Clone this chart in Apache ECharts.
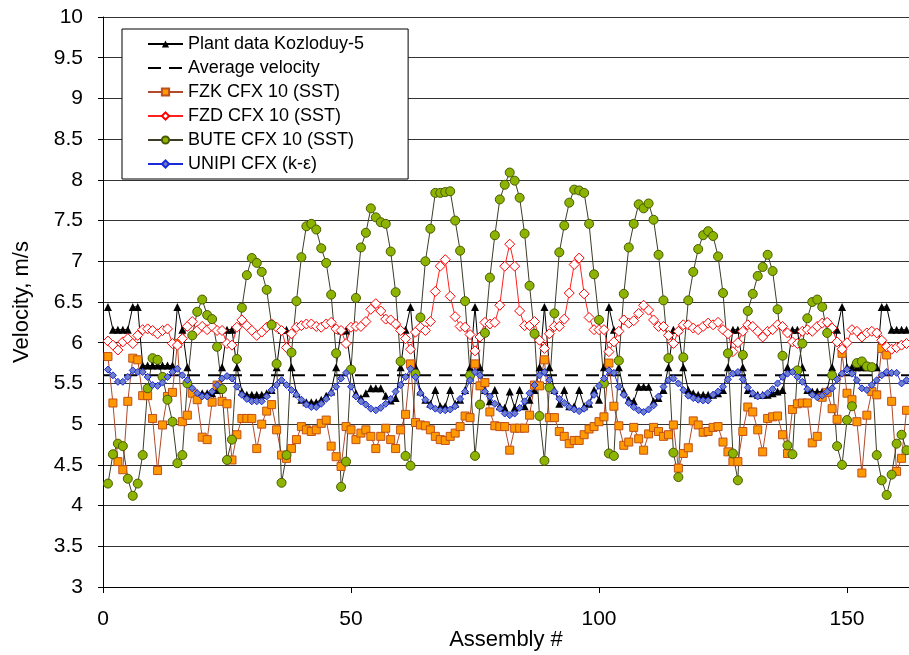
<!DOCTYPE html>
<html>
<head>
<meta charset="utf-8">
<script src="https://cdn.jsdelivr.net/npm/echarts@6/dist/echarts.min.js"></script>
<style>
  html, body { margin: 0; padding: 0; background: #fff; }
  #main { width: 909px; height: 655px; }
</style>
</head>
<body>
<div id="main"></div>
<script>
// velocities per assembly, assembly #1 .. #162 (m/s)
var plantData = [
  6.44, 6.16, 6.16, 6.16, 6.16, 6.44, 6.44, 5.72, 5.72, 5.72,
  5.72, 5.72, 5.72, 5.72, 6.44, 6.16, 5.70, 5.40, 5.38, 5.38,
  5.38, 5.38, 5.42, 5.70, 6.16, 6.16, 5.70, 5.40, 5.36, 5.36,
  5.36, 5.36, 5.38, 5.42, 5.70, 6.16, 6.16, 5.70, 5.38, 5.30,
  5.27, 5.27, 5.27, 5.30, 5.35, 5.40, 5.70, 6.15, 6.15, 5.70,
  5.38, 5.32, 5.38, 5.44, 5.44, 5.44, 5.35, 5.29, 5.32, 5.70,
  6.16, 6.44, 5.70, 5.40, 5.30, 5.25, 5.42, 5.22, 5.22, 5.42,
  5.25, 5.30, 5.42, 5.70, 6.44, 5.70, 5.42, 5.28, 5.42, 5.22,
  5.20, 5.40, 5.20, 5.42, 5.22, 5.30, 5.42, 5.70, 6.44, 5.70,
  5.42, 5.25, 5.42, 5.22, 5.22, 5.42, 5.22, 5.25, 5.42, 5.30,
  5.70, 6.44, 6.16, 5.70, 5.40, 5.30, 5.28, 5.46, 5.46, 5.46,
  5.28, 5.32, 5.42, 5.70, 6.16, 6.16, 5.70, 5.42, 5.38, 5.36,
  5.36, 5.36, 5.36, 5.38, 5.42, 5.70, 6.16, 6.16, 5.70, 5.42,
  5.38, 5.36, 5.36, 5.36, 5.38, 5.40, 5.42, 5.70, 6.16, 6.16,
  5.70, 5.42, 5.40, 5.40, 5.40, 5.42, 5.70, 6.16, 6.44, 5.70,
  5.70, 5.70, 5.70, 5.70, 5.70, 5.70, 6.44, 6.44, 6.16, 6.16,
  6.16, 6.16
];
var averageVelocity = 5.6;
var fzkData = [
  5.83, 5.26, 4.54, 4.44, 5.28, 5.81, 5.79, 5.35, 5.35, 5.07,
  4.43, 4.99, 5.34, 5.39, 5.99, 5.03, 5.11, 5.38, 5.30, 4.84,
  4.81, 5.27, 5.48, 5.28, 5.25, 4.56, 4.87, 5.07, 5.07, 5.07,
  4.70, 5.00, 5.16, 5.24, 4.93, 4.62, 4.58, 4.70, 4.81, 4.97,
  4.93, 4.91, 4.93, 5.01, 5.05, 4.73, 4.60, 4.48, 4.97, 4.93,
  4.81, 4.89, 4.93, 4.85, 4.70, 4.85, 4.95, 4.81, 4.70, 4.93,
  5.12, 5.74, 5.02, 4.99, 4.98, 4.93, 4.85, 4.81, 4.80, 4.85,
  4.89, 4.97, 5.10, 5.08, 5.74, 5.47, 5.51, 5.15, 4.98, 4.97,
  4.97, 4.68, 4.95, 4.95, 4.95, 5.11, 5.48, 5.47, 5.79, 5.08,
  5.08, 4.91, 4.85, 4.76, 4.80, 4.80, 4.87, 4.94, 4.97, 5.03,
  5.09, 5.75, 5.22, 4.98, 4.74, 4.78, 4.96, 4.82, 4.68, 4.88,
  4.96, 4.91, 4.85, 4.87, 4.99, 4.46, 4.64, 4.71, 5.04, 4.99,
  4.90, 4.91, 4.96, 4.97, 4.78, 4.66, 4.54, 4.54, 4.91, 5.21,
  5.15, 4.93, 4.66, 5.07, 5.09, 5.10, 4.87, 4.64, 5.18, 5.25,
  5.26, 5.26, 4.77, 4.85, 5.33, 5.39, 5.19, 5.06, 5.87, 5.38,
  5.30, 5.03, 4.40, 5.11, 5.40, 5.36, 5.93, 5.85, 5.28, 4.42,
  4.58, 5.17
];
var fzdData = [
  6.02, 5.97, 5.91, 6.01, 6.05, 5.99, 6.09, 6.16, 6.17, 6.15,
  6.11, 6.15, 6.17, 5.99, 5.97, 6.05, 6.20, 6.26, 6.15, 6.20,
  6.16, 6.20, 6.15, 6.15, 5.99, 5.97, 6.19, 6.28, 6.21, 6.15,
  6.09, 6.13, 6.19, 6.23, 6.19, 6.15, 5.94, 6.11, 6.19, 6.21,
  6.23, 6.23, 6.20, 6.19, 6.23, 6.25, 6.17, 6.15, 5.99, 6.19,
  6.20, 6.20, 6.26, 6.41, 6.48, 6.39, 6.29, 6.28, 6.23, 6.15,
  6.05, 5.92, 6.13, 6.19, 6.15, 6.26, 6.63, 6.94, 7.02, 6.57,
  6.32, 6.20, 6.19, 6.10, 5.90, 6.07, 6.25, 6.23, 6.25, 6.46,
  6.94, 7.21, 6.94, 6.39, 6.21, 6.21, 6.26, 6.03, 5.93, 6.11,
  6.20, 6.20, 6.29, 6.61, 6.96, 7.04, 6.60, 6.31, 6.16, 6.16,
  6.16, 5.89, 6.01, 6.14, 6.28, 6.24, 6.27, 6.36, 6.46, 6.40,
  6.28, 6.20, 6.20, 6.09, 5.99, 6.14, 6.22, 6.22, 6.18, 6.16,
  6.20, 6.24, 6.22, 6.25, 6.16, 6.11, 5.89, 6.00, 6.14, 6.22,
  6.20, 6.14, 6.07, 6.14, 6.16, 6.22, 6.20, 6.12, 6.01, 5.99,
  6.14, 6.16, 6.14, 6.20, 6.24, 6.25, 6.18, 6.01, 5.92, 6.00,
  6.16, 6.14, 6.07, 6.12, 6.14, 6.12, 6.03, 5.95, 5.92, 5.94,
  5.97, 5.99
];
var buteData = [
  4.27, 4.63, 4.76, 4.73, 4.33, 4.12, 4.27, 4.62, 5.44, 5.81,
  5.79, 5.58, 5.30, 5.03, 4.52, 4.62, 5.50, 6.09, 6.38, 6.53,
  6.34, 6.29, 5.95, 5.43, 4.56, 4.81, 5.80, 6.43, 6.83, 7.04,
  6.98, 6.87, 6.65, 6.22, 5.74, 4.28, 4.62, 5.88, 6.51, 7.05,
  7.43, 7.46, 7.39, 7.16, 6.98, 6.59, 5.87, 4.23, 4.54, 5.67,
  6.55, 7.17, 7.35, 7.65, 7.54, 7.48, 7.46, 7.12, 6.62, 5.77,
  4.61, 4.49, 5.62, 6.31, 7.00, 7.40, 7.84, 7.84, 7.85, 7.86,
  7.50, 7.13, 6.51, 5.60, 4.61, 5.24, 6.12, 6.80, 7.32, 7.76,
  7.94, 8.09, 7.99, 7.78, 7.34, 6.70, 6.11, 5.10, 4.55, 5.45,
  6.36, 7.11, 7.44, 7.72, 7.88, 7.87, 7.84, 7.46, 6.84, 6.28,
  5.50, 4.64, 4.61, 5.78, 6.60, 7.17, 7.46, 7.70, 7.65, 7.71,
  7.51, 7.08, 6.52, 5.81, 4.65, 4.35, 5.82, 6.52, 6.87, 7.15,
  7.32, 7.37, 7.31, 7.06, 6.61, 5.87, 4.64, 4.31, 5.85, 6.39,
  6.60, 6.82, 6.93, 7.08, 6.88, 6.41, 5.84, 4.74, 4.63, 5.66,
  5.99, 6.30, 6.50, 6.53, 6.44, 6.12, 5.60, 4.73, 4.50, 5.05,
  5.22, 5.75, 5.77, 5.71, 5.70, 4.62, 4.31, 4.13, 4.38, 4.76,
  4.87, 4.68
];
var unipiData = [
  5.67, 5.60, 5.52, 5.52, 5.58, 5.66, 5.64, 5.64, 5.58, 5.48,
  5.47, 5.51, 5.58, 5.64, 5.68, 5.60, 5.54, 5.44, 5.38, 5.34,
  5.34, 5.40, 5.48, 5.56, 5.59, 5.56, 5.46, 5.36, 5.31, 5.28,
  5.28, 5.28, 5.34, 5.42, 5.48, 5.54, 5.48, 5.42, 5.36, 5.30,
  5.24, 5.21, 5.21, 5.25, 5.31, 5.38, 5.46, 5.56, 5.63, 5.46,
  5.34, 5.28, 5.24, 5.19, 5.17, 5.20, 5.25, 5.31, 5.40, 5.48,
  5.58, 5.68, 5.58, 5.38, 5.30, 5.22, 5.19, 5.17, 5.17, 5.18,
  5.22, 5.31, 5.40, 5.54, 5.64, 5.60, 5.40, 5.34, 5.25, 5.19,
  5.13, 5.11, 5.13, 5.20, 5.28, 5.38, 5.48, 5.60, 5.64, 5.54,
  5.40, 5.31, 5.26, 5.21, 5.18, 5.16, 5.19, 5.26, 5.36, 5.47,
  5.56, 5.66, 5.63, 5.46, 5.36, 5.26, 5.21, 5.17, 5.15, 5.18,
  5.23, 5.34, 5.46, 5.54, 5.56, 5.50, 5.42, 5.35, 5.32, 5.30,
  5.29, 5.29, 5.36, 5.40, 5.46, 5.55, 5.62, 5.64, 5.55, 5.45,
  5.38, 5.34, 5.35, 5.38, 5.43, 5.50, 5.58, 5.62, 5.64, 5.58,
  5.52, 5.43, 5.36, 5.33, 5.35, 5.40, 5.44, 5.55, 5.62, 5.67,
  5.62, 5.54, 5.44, 5.42, 5.48, 5.54, 5.60, 5.64, 5.63, 5.63,
  5.50, 5.54
];
var yTicks = { min: 3, max: 10, step: 0.5 };
var xTicks = { min: 0, max: 162.5, step: 50 };

function toPoints(values) {
  // assembly numbers start at 1
  return values.map(function (v, i) { return [i + 1, v]; });
}

var chartDom = document.getElementById('main');
var myChart = echarts.init(chartDom);
var font = 'Arial, "Liberation Sans", sans-serif';

var option = {
  animation: false,
  backgroundColor: '#fff',
  grid: { left: 103, right: 0, top: 17, bottom: 68, containLabel: false, outerBoundsMode: 'none' },
  legend: {
    orient: 'vertical',
    left: 122,
    top: 29,
    padding: [6, 44, 6, 25],
    itemGap: 6,
    itemWidth: 35,
    itemHeight: 9,
    backgroundColor: '#fff',
    borderColor: '#000',
    borderWidth: 1,
    textStyle: { fontSize: 18, fontFamily: font, color: '#000', lineHeight: 18 },
    data: [
      'Plant data Kozloduy-5',
      { name: 'Average velocity', itemStyle: { opacity: 0 } },
      'FZK CFX 10 (SST)',
      'FZD CFX 10 (SST)',
      'BUTE CFX 10 (SST)',
      'UNIPI CFX (k-\u03b5)'
    ]
  },
  xAxis: {
    type: 'value',
    min: xTicks.min,
    max: xTicks.max,
    interval: xTicks.step,
    name: 'Assembly #',
    nameLocation: 'middle',
    nameGap: 42,
    nameMoveOverlap: false,
    nameTextStyle: { fontSize: 22, fontFamily: font, color: '#000' },
    axisLine: { lineStyle: { color: '#000', width: 1 } },
    axisTick: { length: 6, lineStyle: { color: '#000' } },
    axisLabel: {
      fontSize: 21, fontFamily: font, color: '#000', margin: 22,
      showMaxLabel: false,
      formatter: function (v) { return v % 50 === 0 ? String(v) : ''; }
    },
    splitLine: { show: false }
  },
  yAxis: {
    type: 'value',
    min: yTicks.min,
    max: yTicks.max,
    interval: yTicks.step,
    name: 'Velocity, m/s',
    nameLocation: 'middle',
    nameGap: 70,
    nameMoveOverlap: false,
    nameTextStyle: { fontSize: 22, fontFamily: font, color: '#000' },
    axisLine: { show: true, lineStyle: { color: '#000', width: 1 } },
    axisTick: { show: true, length: 5, lineStyle: { color: '#000' } },
    axisLabel: { fontSize: 21, fontFamily: font, color: '#000', margin: 20 },
    splitLine: { show: true, lineStyle: { color: '#333', width: 1 } }
  },
  series: [
    {
      name: 'Plant data Kozloduy-5',
      type: 'line',
      data: toPoints(plantData),
      symbol: 'triangle',
      symbolSize: 8,
      lineStyle: { color: '#000', width: 1 },
      itemStyle: { color: '#000' }
    },
    {
      name: 'Average velocity',
      type: 'line',
      data: [[xTicks.min, averageVelocity], [xTicks.max, averageVelocity]],
      symbol: 'none',
      lineStyle: { color: '#000', width: 2, type: [13, 8] },
      itemStyle: { color: '#000' }
    },
    {
      name: 'FZK CFX 10 (SST)',
      type: 'line',
      data: toPoints(fzkData),
      symbol: 'rect',
      symbolSize: 8,
      lineStyle: { color: '#b04a2a', width: 1 },
      itemStyle: { color: '#ff9900', borderColor: '#c0501a', borderWidth: 1 }
    },
    {
      name: 'FZD CFX 10 (SST)',
      type: 'line',
      data: toPoints(fzdData),
      symbol: 'diamond',
      symbolSize: 10,
      lineStyle: { color: '#ff2020', width: 1 },
      itemStyle: { color: '#fff', borderColor: '#ff0000', borderWidth: 1 }
    },
    {
      name: 'BUTE CFX 10 (SST)',
      type: 'line',
      data: toPoints(buteData),
      symbol: 'circle',
      symbolSize: 9,
      lineStyle: { color: '#3c3c28', width: 1 },
      itemStyle: { color: '#8cb400', borderColor: '#4a5a00', borderWidth: 1 }
    },
    {
      name: 'UNIPI CFX (k-\u03b5)',
      type: 'line',
      data: toPoints(unipiData),
      symbol: 'diamond',
      symbolSize: 7,
      lineStyle: { color: '#1a2ad8', width: 1 },
      itemStyle: { color: '#6f7fc8', borderColor: '#1a2ad8', borderWidth: 1 }
    }
  ]
};
myChart.setOption(option);
</script>
</body>
</html>
